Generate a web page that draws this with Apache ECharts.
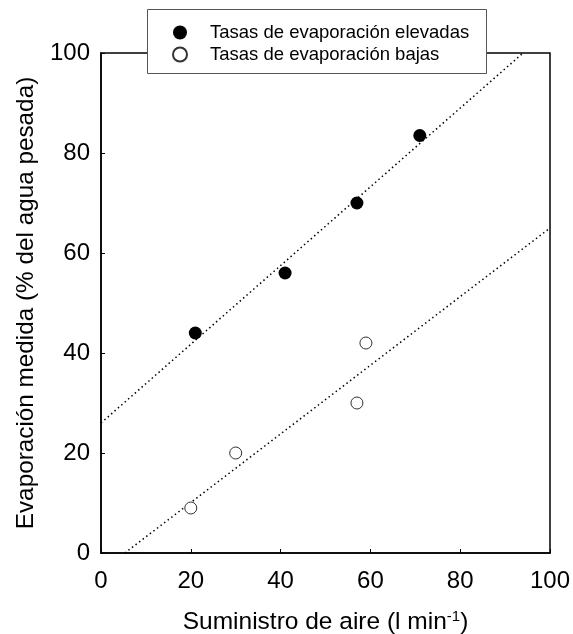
<!DOCTYPE html>
<html><head><meta charset="utf-8">
<script src="https://cdn.jsdelivr.net/npm/echarts@6/dist/echarts.min.js"></script>
<style>html,body{margin:0;padding:0;background:#fff}#c{width:573px;height:634px}</style>
</head><body><div id="c"></div>
<script>
var seriesNames = ['Tasas de evaporación elevadas', 'Tasas de evaporación bajas'];
var highData = [[21, 44], [41, 56], [57, 70], [71, 83.5]];
var lowData = [[20, 9], [30, 20], [57, 30], [59, 42]];
var highTrend = [[0, 26], [94, 100]];
var lowTrend = [[5.3, 0], [100, 65]];
var xTicks = [0, 20, 40, 60, 80, 100];
var yTicks = [0, 20, 40, 60, 80, 100];

var font = '"Liberation Sans", Arial, sans-serif';
var chart = echarts.init(document.getElementById('c'));
chart.setOption({
  animation: false,
  backgroundColor: '#fff',
  grid: {left: 101, right: 23, top: 53, bottom: 81, show: true, borderColor: '#000', borderWidth: 1.5,
    containLabel: false, outerBoundsMode: 'none'},
  graphic: [{
    type: 'rect', z: 50, left: 147, top: 9,
    shape: {width: 339, height: 64},
    style: {fill: '#fff', stroke: '#555', lineWidth: 1}
  }],
  legend: {
    z: 60, orient: 'vertical', left: 172, top: 23, itemGap: 3, padding: 0,
    data: seriesNames, itemWidth: 14, itemHeight: 14,
    textStyle: {fontFamily: font, fontSize: 18.5, color: '#000', padding: [0, 0, 0, 18]}
  },
  xAxis: {
    type: 'value', min: xTicks[0], max: xTicks[xTicks.length - 1], interval: 20,
    splitLine: {show: false},
    axisLine: {lineStyle: {color: '#000', width: 1.5}},
    axisTick: {inside: true, length: 4, lineStyle: {color: '#000'}},
    axisLabel: {fontFamily: font, fontSize: 24, color: '#000', margin: 16},
    name: 'Suministro de aire (l min{sup|-1})', nameLocation: 'middle', nameGap: 56,
    nameTextStyle: {fontFamily: font, fontSize: 24.5, color: '#000',
      rich: {sup: {fontFamily: font, fontSize: 15, color: '#000', verticalAlign: 'top', padding: [0, 0, 12, 0]}}}
  },
  yAxis: {
    type: 'value', min: yTicks[0], max: yTicks[yTicks.length - 1], interval: 20,
    splitLine: {show: false},
    axisLine: {lineStyle: {color: '#000', width: 1.5}},
    axisTick: {inside: true, length: 4, lineStyle: {color: '#000'}},
    axisLabel: {fontFamily: font, fontSize: 24, color: '#000', margin: 11},
    name: 'Evaporación medida (% del agua pesada)', nameLocation: 'middle', nameGap: 63,
    nameTextStyle: {fontFamily: font, fontSize: 24.3, color: '#000'}
  },
  series: [
    {name: 'trendHigh', type: 'line', data: highTrend, showSymbol: false, symbol: 'none',
      lineStyle: {color: '#000', width: 1.5, type: [1.5, 3]}, z: 1, silent: true},
    {name: 'trendLow', type: 'line', data: lowTrend, showSymbol: false, symbol: 'none',
      lineStyle: {color: '#000', width: 1.5, type: [1.5, 3]}, z: 1, silent: true},
    {name: seriesNames[0], type: 'scatter', data: highData, symbol: 'circle', symbolSize: 13,
      itemStyle: {color: '#000', borderColor: '#000', borderWidth: 0, opacity: 1}, z: 3},
    {name: seriesNames[1], type: 'scatter', data: lowData, symbol: 'circle', symbolSize: 12,
      itemStyle: {color: '#fff', borderColor: '#333', borderWidth: 1, opacity: 1}, z: 3}
  ]
});
</script></body></html>
